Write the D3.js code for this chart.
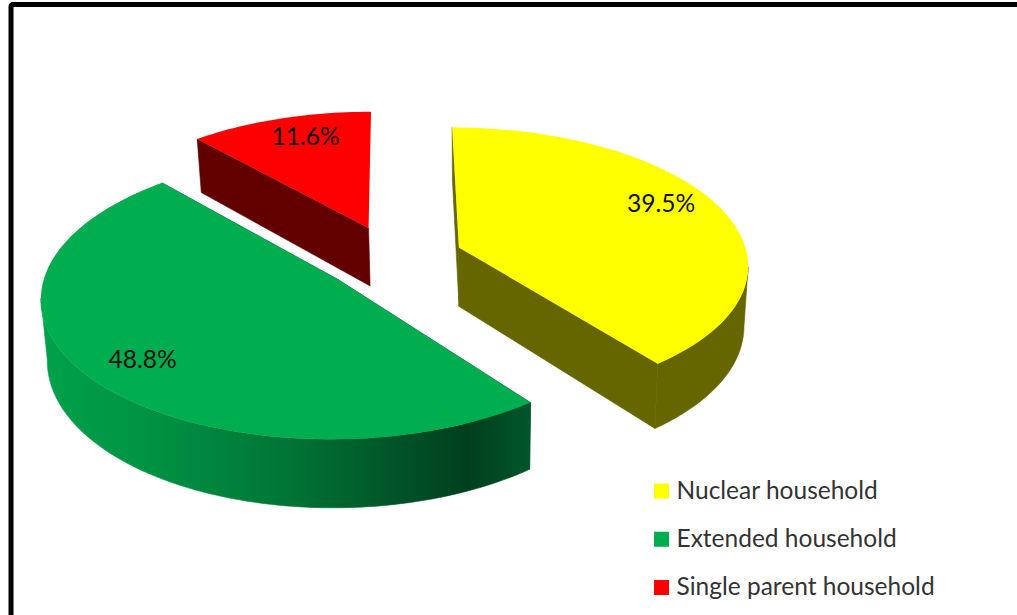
<!DOCTYPE html>
<html>
<head>
<meta charset="utf-8">
<script src="https://cdn.jsdelivr.net/npm/d3@7"></script>
<style>
  html, body { margin: 0; padding: 0; background: #fff; overflow: hidden; }
  svg { display: block; }
  text { font-family: Lato, "Open Sans", sans-serif; }
</style>
</head>
<body>
<div id="chart"></div>
<script>
const categories = ["Nuclear household", "Extended household", "Single parent household"];
const shares = [39.5, 48.8, 11.6];
const topColors = ["#ffff00", "#00ae4f", "#ff0000"];
const sideColors = ["#666600", "#00582a", "#620000"];

const width = 1017;
const height = 615;

// pie plane -> screen, with a little perspective
const center = { x: 393, y: 258 };
const rx = 289;
const ry = 136;
const persp = 0.115;
const explode = 0.243;
const depth = 59.5;
// lower edge pulls in towards this x
const bottomShrink = 0.985;
const shrinkX = 470;

// label spots on the pie, angle in degrees and fraction of the radius
const labelAngle = [65, 229, 342];
const labelRadius = [0.82, 0.81, 0.81];

function project(a, b, lower) {
  const w = 1 + persp * b;
  let x = center.x + (rx * a) / w;
  let y = center.y - (ry * b) / w;
  if (lower) {
    x = shrinkX + (x - shrinkX) * bottomShrink;
    y = y + depth / w;
  }
  return [x, y];
}

const svg = d3
  .select("#chart")
  .append("svg")
  .attr("width", width)
  .attr("height", height);

// frame of the original picture, runs off right and bottom
svg
  .append("rect")
  .attr("x", 11)
  .attr("y", 4.5)
  .attr("width", width + 20)
  .attr("height", height + 20)
  .attr("rx", 2)
  .attr("fill", "#fff")
  .attr("stroke", "#000")
  .attr("stroke-width", 5);

const defs = svg.append("defs");
const sideGrad = defs
  .append("linearGradient")
  .attr("id", "green-side")
  .attr("gradientUnits", "userSpaceOnUse")
  .attr("x1", 45)
  .attr("x2", 530)
  .attr("y1", 0)
  .attr("y2", 0);
[
  [0, "#00a04a"],
  [0.2, "#009444"],
  [0.5, "#007535"],
  [0.75, "#005026"],
  [0.87, "#003f1e"],
  [1, "#00562a"],
].forEach(([o, c]) => sideGrad.append("stop").attr("offset", o).attr("stop-color", c));

const pie = d3.pie().sort(null);
const arcs = pie(shares);
const line = d3.line();

const slices = arcs.map((d, i) => {
  const mid = (d.startAngle + d.endAngle) / 2;
  const off = { a: explode * Math.sin(mid), b: explode * Math.cos(mid) };
  const pt = (t, r, lower) =>
    project(off.a + r * Math.sin(t), off.b + r * Math.cos(t), lower);
  const n = Math.ceil((d.endAngle - d.startAngle) * 40);
  const ts = d3.range(n + 1).map((k) => d.startAngle + ((d.endAngle - d.startAngle) * k) / n);
  return { i, d, mid, pt, ts };
});

// back to front: red, yellow, green
const order = [2, 0, 1];
order.forEach((idx) => {
  const s = slices[idx];
  const g = svg.append("g");
  const side = idx === 1 ? "url(#green-side)" : sideColors[idx];
  const { pt, ts, d } = s;

  // the cut faces; the red one's right face looks away from us
  const faces = idx === 2 ? [d.startAngle] : [d.startAngle, d.endAngle];
  faces.forEach((t) => {
    g.append("path")
      .attr("d", line([pt(t, 0), pt(t, 1), pt(t, 1, true), pt(t, 0, true)]) + "Z")
      .attr("fill", sideColors[idx])
      .attr("stroke", sideColors[idx])
      .attr("stroke-width", 0.6);
  });
  // outer rim, only the stretch facing the viewer (top edge runs right to left there)
  const front = ts.filter((t, k) => {
    const prev = ts[k - 1];
    const next = ts[k + 1];
    return (
      (next !== undefined && pt(next, 1)[0] < pt(t, 1)[0]) ||
      (prev !== undefined && pt(t, 1)[0] < pt(prev, 1)[0])
    );
  });
  if (front.length > 1) {
    const rim = front
      .map((t) => pt(t, 1))
      .concat(front.slice().reverse().map((t) => pt(t, 1, true)));
    g.append("path")
      .attr("d", line(rim) + "Z")
      .attr("fill", side)
      .attr("stroke", side)
      .attr("stroke-width", 0.6);
  }
  // top
  const top = [pt(0, 0)].concat(ts.map((t) => pt(t, 1)));
  g.append("path").attr("d", line(top) + "Z").attr("fill", topColors[idx]);
});

// % labels
slices.forEach((s) => {
  const [x, y] = s.pt((labelAngle[s.i] * Math.PI) / 180, labelRadius[s.i]);
  svg
    .append("text")
    .attr("x", x)
    .attr("y", y)
    .attr("dy", "0.35em")
    .attr("text-anchor", "middle")
    .attr("font-size", 24.6)
    .attr("fill", "#111")
    .text(`${shares[s.i].toFixed(1)}%`);
});

// legend
const legendY = d3.scalePoint().domain(categories).range([491.5, 588]);
const legend = svg
  .selectAll("g.legend")
  .data(categories)
  .join("g")
  .attr("class", "legend")
  .attr("transform", (d) => `translate(654,${legendY(d)})`);
legend
  .append("rect")
  .attr("y", -8)
  .attr("width", 15)
  .attr("height", 15)
  .attr("fill", (d, i) => topColors[i]);
legend
  .append("text")
  .attr("x", 22.5)
  .attr("y", 7)
  .attr("font-size", 24.5)
  .attr("fill", "#333")
  .text((d) => d);
</script>
</body>
</html>
